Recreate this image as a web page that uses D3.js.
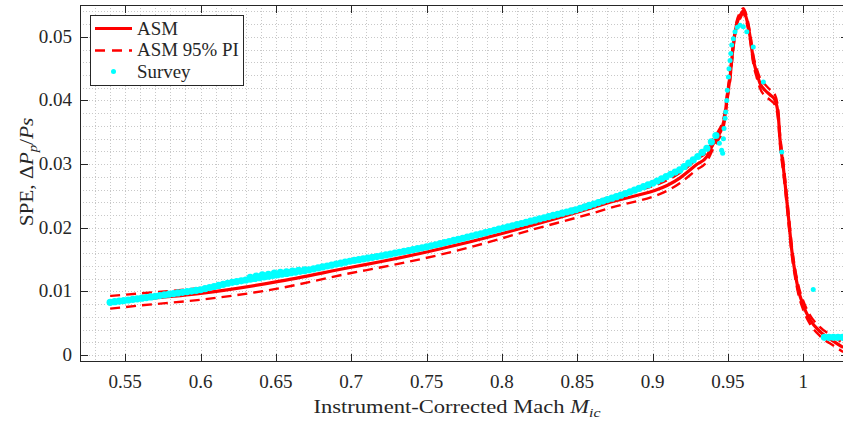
<!DOCTYPE html>
<html lang="en">
<head>
  <meta charset="UTF-8" />
  <title>SPE vs Mach</title>
  <style>
    html, body {
      margin: 0;
      padding: 0;
      background: #fff;
    }
    svg { display: block; overflow: hidden; }
    text {
      font-family: "Liberation Serif", "Times New Roman", serif;
      fill: #262626;
    }
  </style>
</head>
<body>
  <svg id="chart" width="843" height="423"></svg>

  <script src="https://d3js.org/d3.v7.min.js"></script>
  <script>
    // axis ticks
    const xTicks = [0.55, 0.6, 0.65, 0.7, 0.75, 0.8, 0.85, 0.9, 0.95, 1];
    const xTickLabels = ["0.55", "0.6", "0.65", "0.7", "0.75", "0.8", "0.85", "0.9", "0.95", "1"];
    const yTicks = [0, 0.01, 0.02, 0.03, 0.04, 0.05];
    const yTickLabels = ["0", "0.01", "0.02", "0.03", "0.04", "0.05"];

    // ASM model curve and its 95% prediction interval
    const asmMach = [0.540, 0.560, 0.600, 0.650, 0.700, 0.720, 0.770, 0.820, 0.870, 0.918,
      0.929, 0.936, 0.940, 0.9436, 0.9459, 0.9481, 0.9492, 0.9514, 0.9536, 0.9558,
      0.9580, 0.9602, 0.9625, 0.9647, 0.9668, 0.9691, 0.9713, 0.9746, 0.9779, 0.9812,
      0.9834, 0.9845, 0.9867, 0.9879, 0.9901, 0.9923, 0.9945, 0.9967, 1.0000, 1.0044,
      1.0111, 1.0199, 1.0265];
    const asmSpe = [0.0084, 0.0088, 0.0097, 0.0115, 0.0138, 0.0147, 0.0173, 0.0204, 0.0239, 0.0278,
      0.0299, 0.0312, 0.0331, 0.0345, 0.0356, 0.0378, 0.0400, 0.0437, 0.0488, 0.0520,
      0.0533, 0.0541, 0.0527, 0.0500, 0.0465, 0.0443, 0.0427, 0.0416, 0.0409, 0.0401,
      0.0376, 0.0340, 0.0296, 0.0270, 0.0218, 0.0166, 0.0130, 0.0103, 0.0078, 0.0056,
      0.0037, 0.0022, 0.0012];
    const asmLo = [0.0073, 0.0078, 0.0087, 0.0104, 0.0129, 0.0138, 0.0164, 0.0197, 0.0230, 0.0270,
      0.0291, 0.0304, 0.0323, 0.0338, 0.0349, 0.0371, 0.0393, 0.0430, 0.0482, 0.0515,
      0.0528, 0.0536, 0.0521, 0.0494, 0.0458, 0.0436, 0.0419, 0.0407, 0.0401, 0.0393,
      0.0367, 0.0331, 0.0287, 0.0261, 0.0209, 0.0158, 0.0123, 0.0096, 0.0071, 0.0049,
      0.0030, 0.0015, 0.0005];
    const asmHi = [0.0093, 0.0097, 0.01055, 0.0124, 0.0147, 0.0156, 0.0182, 0.0211, 0.0247, 0.0286,
      0.0307, 0.0320, 0.0339, 0.0352, 0.0363, 0.0385, 0.0407, 0.0444, 0.0494, 0.0525,
      0.0538, 0.0545, 0.0532, 0.0506, 0.0472, 0.0450, 0.0435, 0.0425, 0.0417, 0.0409,
      0.0385, 0.0349, 0.0305, 0.0279, 0.0227, 0.0174, 0.0137, 0.0110, 0.0085, 0.0063,
      0.0044, 0.0029, 0.0019];

    // survey points, dense part (overlapping, drawn as a band)
    const surveyDense = [
      [0.540,0.00830],[0.543,0.00839],[0.546,0.00848],[0.549,0.00857],[0.552,0.00866],[0.555,0.00875],
      [0.558,0.00884],[0.561,0.00894],[0.564,0.00904],[0.567,0.00915],[0.570,0.00925],[0.573,0.00936],
      [0.576,0.00946],[0.579,0.00957],[0.582,0.00967],[0.585,0.00977],[0.588,0.00987],[0.591,0.00997],
      [0.594,0.01007],[0.597,0.01017],[0.600,0.01027],[0.603,0.01044],[0.606,0.01061],[0.609,0.01078],
      [0.612,0.01095],[0.615,0.01112],[0.618,0.01129],[0.621,0.01144],[0.624,0.01156],[0.627,0.01168],
      [0.630,0.01180],[0.633,0.01192],[0.636,0.01204],[0.639,0.01216],[0.642,0.01228],[0.645,0.01240],
      [0.648,0.01252],[0.651,0.01263],[0.654,0.01274],[0.657,0.01284],[0.660,0.01295],[0.663,0.01305],
      [0.666,0.01316],[0.669,0.01326],[0.672,0.01340],[0.675,0.01355],[0.678,0.01370],[0.681,0.01385],
      [0.684,0.01400],[0.687,0.01415],[0.690,0.01430],[0.693,0.01445],[0.696,0.01460],[0.699,0.01475],
      [0.702,0.01488],[0.705,0.01500],[0.708,0.01512],[0.711,0.01524],[0.714,0.01536],[0.717,0.01548],
      [0.720,0.01560],[0.723,0.01574],[0.726,0.01588],[0.729,0.01602],[0.732,0.01616],[0.735,0.01630],
      [0.738,0.01644],[0.741,0.01658],[0.744,0.01672],[0.747,0.01686],[0.750,0.01700],[0.753,0.01717],
      [0.756,0.01734],[0.759,0.01751],[0.762,0.01768],[0.765,0.01785],[0.768,0.01802],[0.771,0.01819],
      [0.774,0.01836],[0.777,0.01853],[0.780,0.01870],[0.783,0.01888],[0.786,0.01906],[0.789,0.01924],
      [0.792,0.01942],[0.795,0.01960],[0.798,0.01978],[0.801,0.01996],[0.804,0.02014],[0.807,0.02032],
      [0.810,0.02050],[0.813,0.02068],[0.816,0.02086],[0.819,0.02104],[0.822,0.02122],[0.825,0.02140],
      [0.828,0.02158],[0.831,0.02176],[0.834,0.02194],[0.837,0.02212],[0.840,0.02230],[0.843,0.02248],
      [0.846,0.02266],[0.849,0.02284],[0.852,0.02305],[0.855,0.02328],[0.858,0.02351],[0.861,0.02374],
      [0.864,0.02397],[0.867,0.02420],[0.870,0.02443],[0.873,0.02466],[0.876,0.02489],[0.879,0.02512],
      [0.882,0.02538],[0.885,0.02565],[0.888,0.02592],[0.891,0.02619],[0.894,0.02646],[0.897,0.02673],
      [0.900,0.02700],[0.903,0.02735],[0.906,0.02770],[0.909,0.02805],[0.912,0.02840],[0.915,0.02875],
      [0.918,0.02910],[0.921,0.02963],[0.924,0.03015],[0.927,0.03068],[0.930,0.03120],[0.933,0.03185],
      [0.936,0.03250],[0.939,0.03350],[0.942,0.03450],
      [0.633,0.0122],[0.637,0.0124],[0.641,0.0126],[0.645,0.0127],[0.649,0.0129],
      [0.653,0.0130],[0.657,0.0131],[0.661,0.0132],[0.665,0.0133],[0.669,0.0134],
      [1.014,0.0028],[1.017,0.0028],[1.020,0.0028],[1.023,0.0028],[1.026,0.0028],[1.029,0.0028]
    ];

    // survey points, sparse part around the peak
    const surveySparse = [
      [0.9443,0.0333],[0.9458,0.0322],[0.9465,0.0317],[0.9470,0.0340],[0.9474,0.0356],[0.9481,0.0372],
      [0.9485,0.0382],[0.9492,0.0400],[0.9496,0.0416],[0.9503,0.0437],[0.9507,0.0450],[0.9514,0.0463],
      [0.9519,0.0474],[0.9525,0.0487],[0.9536,0.0497],[0.9547,0.0508],[0.9562,0.0515],[0.9580,0.0518],
      [0.9602,0.0516],[0.9625,0.0508],[0.9668,0.0484],[0.9735,0.0429],[0.9857,0.0319],[1.0066,0.0103]
    ];

    const red = "#ff0000";
    const cyan = "#00ffff";
    const axisColor = "#262626";

    const svg = d3.select("#chart");
    const pL = 80, pR = 848.5, pT = 5, pB = 361.5;

    const x = d3.scaleLinear().domain([0.52, 1.03]).range([pL, pR]);
    const y = d3.scaleLinear().domain([-0.001, 0.055]).range([pB, pT]);

    svg.append("defs").append("clipPath").attr("id", "clip")
      .append("rect")
      .attr("x", pL).attr("y", pT)
      .attr("width", pR - pL).attr("height", pB - pT);

    // grid (minor + major, all dotted)
    const grid = svg.append("g").attr("shape-rendering", "crispEdges");
    const xGrid = d3.range(52, 104).map(d => d / 100);
    const yGrid = d3.range(0, 28).map(d => d * 0.002);
    grid.selectAll(".gx").data(xGrid).join("line")
      .attr("x1", d => Math.round(x(d)) + 0.5).attr("x2", d => Math.round(x(d)) + 0.5)
      .attr("y1", pT).attr("y2", pB)
      .attr("stroke", "#c8c8c8").attr("stroke-dasharray", "1,2");
    grid.selectAll(".gy").data(yGrid).join("line")
      .attr("x1", pL).attr("x2", pR)
      .attr("y1", d => Math.round(y(d)) + 0.5).attr("y2", d => Math.round(y(d)) + 0.5)
      .attr("stroke", "#c8c8c8").attr("stroke-dasharray", "1,2");

    const plot = svg.append("g").attr("clip-path", "url(#clip)");

    const line = d3.line()
      .x(d => x(d[0]))
      .y(d => y(d[1]))
      .curve(d3.curveMonotoneX);

    const solidPts = asmMach.map((m, i) => [m, asmSpe[i]]);
    const loPts = asmMach.map((m, i) => [m, asmLo[i]]);
    const hiPts = asmMach.map((m, i) => [m, asmHi[i]]);

    plot.append("path").datum(solidPts)
      .attr("d", line).attr("fill", "none")
      .attr("stroke", red).attr("stroke-width", 3.2)
      .attr("stroke-linejoin", "round");

    [loPts, hiPts].forEach(pts => {
      plot.append("path").datum(pts)
        .attr("d", line).attr("fill", "none")
        .attr("stroke", red).attr("stroke-width", 2.4)
        .attr("stroke-dasharray", "10,6");
    });

    plot.selectAll(".sd").data(surveyDense).join("circle")
      .attr("cx", d => x(d[0])).attr("cy", d => y(d[1]))
      .attr("r", 3.6).attr("fill", cyan);

    plot.selectAll(".ss").data(surveySparse).join("circle")
      .attr("cx", d => x(d[0])).attr("cy", d => y(d[1]))
      .attr("r", 2.5).attr("fill", cyan);

    // frame and inward ticks on all four sides
    const frame = svg.append("g").attr("shape-rendering", "crispEdges")
      .attr("stroke", axisColor).attr("stroke-width", 1);
    frame.append("rect")
      .attr("x", pL + 0.5).attr("y", pT + 0.5)
      .attr("width", pR - pL).attr("height", pB - pT - 0.5)
      .attr("fill", "none");
    const tl = 7.5;
    xTicks.forEach(t => {
      const px = Math.round(x(t)) + 0.5;
      frame.append("line").attr("x1", px).attr("x2", px).attr("y1", pB).attr("y2", pB - tl);
      frame.append("line").attr("x1", px).attr("x2", px).attr("y1", pT).attr("y2", pT + tl);
    });
    yTicks.forEach(t => {
      const py = Math.round(y(t)) + 0.5;
      frame.append("line").attr("x1", pL).attr("x2", pL + tl).attr("y1", py).attr("y2", py);
      frame.append("line").attr("x1", pR).attr("x2", pR - tl).attr("y1", py).attr("y2", py);
    });

    // tick labels (slightly widened to resemble the LaTeX font)
    svg.selectAll(".xl").data(xTicks).join("text")
      .attr("transform", d => `translate(${x(d)},388) scale(1.06,1)`)
      .attr("text-anchor", "middle").style("font-size", "18px")
      .text((d, i) => xTickLabels[i]);
    svg.selectAll(".yl").data(yTicks).join("text")
      .attr("transform", d => `translate(72,${y(d) + 6}) scale(1.06,1)`)
      .attr("text-anchor", "end").style("font-size", "18px")
      .text((d, i) => yTickLabels[i]);

    // axis titles
    const xt = svg.append("text")
      .attr("transform", "translate(457,413) scale(1.22,1)")
      .attr("text-anchor", "middle").style("font-size", "18.5px");
    xt.append("tspan").text("Instrument-Corrected Mach ");
    xt.append("tspan").style("font-style", "italic").text("M");
    xt.append("tspan").style("font-style", "italic").style("font-size", "13px")
      .attr("dy", 4).text("ic");

    const yt = svg.append("text")
      .attr("transform", "translate(33,172) rotate(-90) scale(1.15,1)")
      .attr("text-anchor", "middle").style("font-size", "18.5px");
    yt.append("tspan").text("SPE, \u0394");
    yt.append("tspan").style("font-style", "italic").text("P");
    yt.append("tspan").style("font-style", "italic").style("font-size", "13px")
      .attr("dy", 4).text("p");
    yt.append("tspan").attr("dy", -4).text("/");
    yt.append("tspan").style("font-style", "italic").text("Ps");

    // legend
    const lg = svg.append("g");
    lg.append("rect")
      .attr("x", 90.5).attr("y", 15.5).attr("width", 153).attr("height", 70)
      .attr("fill", "#fff").attr("stroke", axisColor).attr("shape-rendering", "crispEdges");
    lg.append("line")
      .attr("x1", 95).attr("x2", 132).attr("y1", 28.5).attr("y2", 28.5)
      .attr("stroke", red).attr("stroke-width", 3.2);
    lg.append("line")
      .attr("x1", 95).attr("x2", 132).attr("y1", 50.5).attr("y2", 50.5)
      .attr("stroke", red).attr("stroke-width", 2.4).attr("stroke-dasharray", "10,7");
    lg.append("circle").attr("cx", 113.5).attr("cy", 71.5).attr("r", 2.5).attr("fill", cyan);
    const labels = ["ASM", "ASM 95% PI", "Survey"];
    lg.selectAll(".lt").data(labels).join("text")
      .attr("transform", (d, i) => `translate(137,${34.5 + i * 21.5}) scale(1.05,1)`)
      .style("font-size", "18px")
      .text(d => d);
  </script>
</body>
</html>
